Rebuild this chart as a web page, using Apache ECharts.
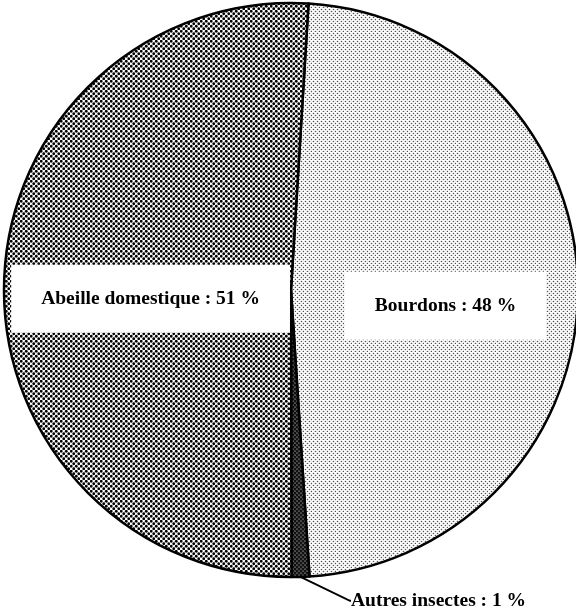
<!DOCTYPE html>
<html>
<head>
<meta charset="utf-8">
<script src="https://cdn.jsdelivr.net/npm/echarts@6/dist/echarts.min.js"></script>
<style>
html, body { margin: 0; padding: 0; background: #fff; }
#pie { width: 576px; height: 615px; }
</style>
</head>
<body>
<div id="pie"></div>
<script>
// parts des visites (%)
var categories = ['Bourdons', 'Autres insectes', 'Abeille domestique'];
var percents = [48, 1, 51];

// motif de points pour imiter la trame d'impression
function tile (w, h, bg, fg, pts, r) {
  var c = document.createElement('canvas');
  c.width = w;
  c.height = h;
  var ctx = c.getContext('2d');
  ctx.fillStyle = bg;
  ctx.fillRect(0, 0, w, h);
  ctx.fillStyle = fg;
  pts.forEach(function (p) {
    ctx.beginPath();
    ctx.arc(p[0], p[1], r, 0, Math.PI * 2);
    ctx.fill();
  });
  return { image: c, repeat: 'repeat' };
}

var patBourdons = tile(8, 8, '#fff', '#555',
  [[1.5, 1.5], [5.5, 1.5], [3.5, 3.5], [7.5, 3.5], [1.5, 5.5], [5.5, 5.5], [3.5, 7.5], [7.5, 7.5]], 0.8);
var patAutres = tile(4, 4, '#111', '#fff', [[1, 1], [3, 3]], 0.6);
var patAbeille = tile(10, 10, '#fff', '#000',
  [[1.25, 1.25], [6.25, 1.25], [3.75, 3.75], [8.75, 3.75], [1.25, 6.25], [6.25, 6.25], [3.75, 8.75], [8.75, 8.75]], 1.4);
var patterns = [patBourdons, patAutres, patAbeille];

var labelFont = {
  fontFamily: 'Liberation Serif',
  fontWeight: 'bold',
  fontSize: 19.5,
  color: '#000'
};

var chart = echarts.init(document.getElementById('pie'));
chart.setOption({
  animation: false,
  series: [{
    type: 'pie',
    center: [291, 290],
    radius: 287,
    startAngle: 86.5,
    clockwise: true,
    avoidLabelOverlap: false,
    itemStyle: {
      borderColor: '#000',
      borderWidth: 2.5
    },
    labelLayout: function (params) {
      var r = params.labelRect;
      if (params.dataIndex === 0) return { dx: 8, dy: 16 };
      if (params.dataIndex === 2) return { dx: 6, dy: 13 };
      // x/y absolus pour que la ligne de rappel soit retracée en oblique
      if (params.dataIndex === 1) {
        return { x: r.x + 41, y: r.y + r.height / 2 + 10, align: 'left', verticalAlign: 'middle' };
      }
      return {};
    },
    data: categories.map(function (name, i) {
      var item = {
        name: name,
        value: percents[i],
        itemStyle: { color: patterns[i] }
      };
      if (i === 1) {
        item.label = Object.assign({
          show: true,
          position: 'outside',
          formatter: '{b} : {c} %',
          distanceToLabelLine: 8
        }, labelFont);
        item.labelLine = {
          show: true,
          length: 14,
          length2: 1,
          lineStyle: { color: '#000', width: 2 }
        };
      } else {
        item.label = Object.assign({
          show: true,
          position: 'inside',
          formatter: '{b} : {c} %',
          backgroundColor: '#fff',
          padding: [24, 30]
        }, labelFont);
      }
      return item;
    })
  }]
});
</script>
</body>
</html>
